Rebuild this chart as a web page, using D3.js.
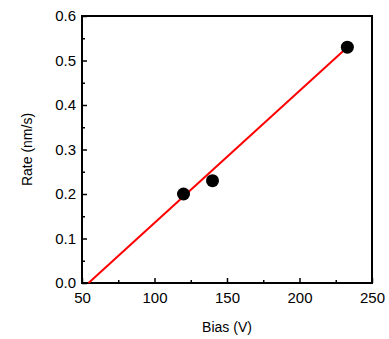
<!DOCTYPE html>
<html lang="en">
<head>
<script src="https://d3js.org/d3.v7.min.js"></script>
<style>
  body { margin: 0; background: #fff; }
  text { font-family: "Liberation Sans", Arial, sans-serif; fill: #000; }
</style>
</head>
<body>
<script>
// data
var biasValues = [120, 140, 233];
var rateValues = [0.20, 0.23, 0.53];
var fitBias = [54.5, 233];
var fitRate = [0, 0.53];
var xTicks = [50, 100, 150, 200, 250];
var yTicks = [0.0, 0.1, 0.2, 0.3, 0.4, 0.5, 0.6];

var width = 389, height = 339;
var margin = {left: 82, right: 17, top: 16, bottom: 56};

var svg = d3.select("body").append("svg")
    .attr("width", width)
    .attr("height", height);

var x = d3.scaleLinear().domain([50, 250]).range([margin.left, width - margin.right]);
var y = d3.scaleLinear().domain([0, 0.6]).range([height - margin.bottom, margin.top]);

// minor ticks
svg.append("g")
    .attr("transform", "translate(0," + y(0) + ")")
    .call(d3.axisBottom(x).tickValues(d3.range(75, 250, 50)).tickSize(-3).tickFormat(""))
    .call(function(g) { g.select(".domain").remove(); g.selectAll("line").attr("stroke-width", 1.5); });
svg.append("g")
    .attr("transform", "translate(" + x(50) + ",0)")
    .call(d3.axisLeft(y).tickValues(d3.range(0.05, 0.6, 0.1)).tickSize(-3).tickFormat(""))
    .call(function(g) { g.select(".domain").remove(); g.selectAll("line").attr("stroke-width", 1.5); });

// major ticks
svg.append("g")
    .attr("transform", "translate(0," + y(0) + ")")
    .call(d3.axisBottom(x).tickValues(xTicks).tickSize(-5).tickPadding(9).tickFormat(d3.format("d")))
    .call(function(g) {
        g.select(".domain").remove();
        g.selectAll("line").attr("stroke-width", 1.5);
        g.selectAll("text").attr("font-size", 15).attr("dy", "0.71em").attr("y", 9);
    });
svg.append("g")
    .attr("transform", "translate(" + x(50) + ",0)")
    .call(d3.axisLeft(y).tickValues(yTicks).tickSize(-5).tickPadding(6).tickFormat(d3.format(".1f")))
    .call(function(g) {
        g.select(".domain").remove();
        g.selectAll("line").attr("stroke-width", 1.5);
        g.selectAll("text").attr("font-size", 15).attr("x", -6);
    });

// frame
svg.append("rect")
    .attr("x", x(50)).attr("y", y(0.6))
    .attr("width", x(250) - x(50)).attr("height", y(0) - y(0.6))
    .attr("fill", "none").attr("stroke", "#000").attr("stroke-width", 2);

// fit line
svg.append("path")
    .datum(d3.zip(fitBias, fitRate))
    .attr("fill", "none")
    .attr("stroke", "#ff0000")
    .attr("stroke-width", 2)
    .attr("d", d3.line().x(function(d) { return x(d[0]); }).y(function(d) { return y(d[1]); }));

// points
svg.append("g").selectAll("circle")
    .data(d3.zip(biasValues, rateValues))
    .enter().append("circle")
    .attr("cx", function(d) { return x(d[0]); })
    .attr("cy", function(d) { return y(d[1]); })
    .attr("r", 6.5)
    .attr("fill", "#000");

// axis titles
svg.append("text")
    .attr("x", (x(50) + x(250)) / 2)
    .attr("y", 332)
    .attr("text-anchor", "middle")
    .attr("font-size", 14)
    .text("Bias (V)");

svg.append("text")
    .attr("transform", "translate(32," + (y(0.3)) + ") rotate(-90)")
    .attr("text-anchor", "middle")
    .attr("font-size", 14)
    .text("Rate (nm/s)");
</script>
</body>
</html>
